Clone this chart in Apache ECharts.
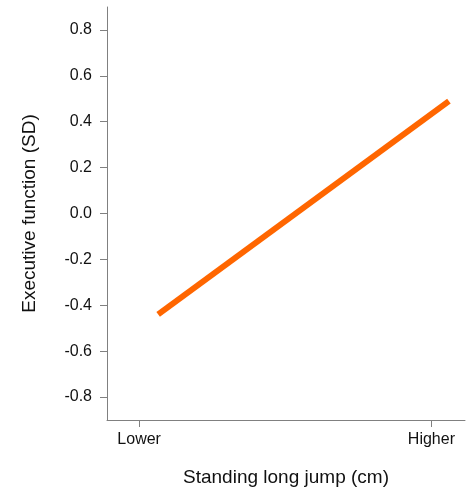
<!DOCTYPE html>
<html>
<head>
<meta charset="utf-8">
<script src="https://cdn.jsdelivr.net/npm/echarts@6/dist/echarts.min.js"></script>
<style>html,body{margin:0;padding:0;background:#fff;}#c{width:467px;height:492px;}</style>
</head>
<body>
<div id="c"></div>
<script>
// Data
const xTickValues = [0, 1];
const xTickLabels = ['Lower', 'Higher'];
const yTicks = [-0.8, -0.6, -0.4, -0.2, 0.0, 0.2, 0.4, 0.6, 0.8];
const lineX = [0.065, 1.06];
const lineY = [-0.44, 0.49];

const chart = echarts.init(document.getElementById('c'), null, {renderer: 'canvas'});
const font = '"Liberation Sans", Arial, sans-serif';
chart.setOption({
  animation: false,
  backgroundColor: '#ffffff',
  grid: {left: 107, right: 2, top: 7, bottom: 72},
  xAxis: {
    type: 'value', min: -0.11, max: 1.115,
    name: 'Standing long jump (cm)', nameLocation: 'middle', nameGap: 48,
    nameTextStyle: {fontFamily: font, fontSize: 19, color: '#111'},
    axisLine: {show: true, onZero: false, lineStyle: {color: '#808080', width: 1}},
    axisTick: {show: true, length: 7, customValues: xTickValues, lineStyle: {color: '#808080'}},
    axisLabel: {customValues: xTickValues, margin: 12, fontFamily: font, fontSize: 16, color: '#111',
      formatter: v => { const i = xTickValues.indexOf(v); return i >= 0 ? xTickLabels[i] : ''; }},
    splitLine: {show: false}
  },
  yAxis: {
    type: 'value', min: -0.9, max: 0.9,
    name: 'Executive function (SD)', nameLocation: 'middle', nameGap: 68, nameRotate: 90,
    nameTextStyle: {fontFamily: font, fontSize: 19, color: '#111'},
    axisLine: {show: true, onZero: false, lineStyle: {color: '#808080', width: 1}},
    axisTick: {show: true, length: 7, customValues: yTicks, lineStyle: {color: '#808080'}},
    axisLabel: {customValues: yTicks, margin: 15, fontFamily: font, fontSize: 16, color: '#111',
      formatter: v => v.toFixed(1)},
    splitLine: {show: false}
  },
  series: [{
    type: 'line',
    data: lineX.map((x, i) => [x, lineY[i]]),
    showSymbol: false,
    lineStyle: {color: '#FF6600', width: 6, cap: 'butt'}
  }]
});
</script>
</body>
</html>
